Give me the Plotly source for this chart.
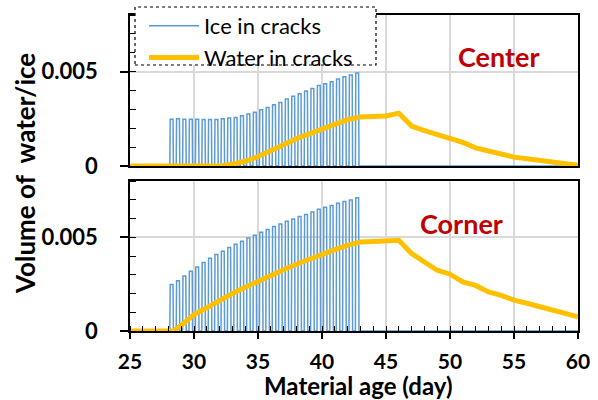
import plotly.graph_objects as go

# ---------------- data ----------------
ice_peak_day = [28.25, 28.75, 29.25, 29.75, 30.25, 30.75, 31.25, 31.75, 32.25, 32.75,
                33.25, 33.75, 34.25, 34.75, 35.25, 35.75, 36.25, 36.75, 37.25, 37.75,
                38.25, 38.75, 39.25, 39.75, 40.25, 40.75, 41.25, 41.75, 42.25, 42.75]
ice_peak_center = [0.00248, 0.00250, 0.00248, 0.00248, 0.00248, 0.00246, 0.00246, 0.00246,
                   0.00250, 0.00254, 0.00257, 0.00266, 0.00275, 0.00285, 0.00298, 0.00310,
                   0.00324, 0.00337, 0.00355, 0.00369, 0.00383, 0.00397, 0.00411, 0.00426,
                   0.00436, 0.00447, 0.00461, 0.00473, 0.00482, 0.00493]
ice_peak_corner = [0.00248, 0.00268, 0.00294, 0.00319, 0.00342, 0.00365, 0.00388, 0.00408,
                   0.00426, 0.00445, 0.00463, 0.00479, 0.00496, 0.00511, 0.00527, 0.00541,
                   0.00557, 0.00571, 0.00585, 0.00598, 0.00610, 0.00622, 0.00635, 0.00649,
                   0.00660, 0.00670, 0.00681, 0.00691, 0.00699, 0.00711]

water_day_center = [25, 28, 32, 33, 34, 35, 36, 37, 38, 39, 40, 41, 42, 43, 44, 45, 46,
                    47, 48, 49, 50, 51, 52, 53, 54, 55, 56, 57, 58, 59, 60]
water_center = [0, 0, 0, 0.0001, 0.00025, 0.0005, 0.00078, 0.00112, 0.00145, 0.0017,
                0.0019, 0.0022, 0.00245, 0.0026, 0.0026, 0.00265, 0.0028,
                0.00212, 0.00188, 0.00168, 0.00143, 0.00125, 0.00096, 0.00078, 0.0006,
                0.00047, 0.00038, 0.00029, 0.0002, 0.00012, 0.00004]

water_day_corner = [25, 28.4, 29, 30, 31, 32, 33, 34, 35, 36, 37, 38, 39, 40, 41, 42, 43,
                    44, 45, 46, 47, 48, 49, 50, 51, 52, 53, 54, 55, 56, 57, 58, 59, 60]
water_corner = [0, 0, 0.0003, 0.00088, 0.00124, 0.00165, 0.002, 0.00233, 0.00266, 0.00297,
                0.00327, 0.00356, 0.00384, 0.00412, 0.00434, 0.00457, 0.00475,
                0.00477, 0.0048, 0.00484, 0.00413, 0.00372, 0.00324, 0.00303, 0.00262,
                0.00243, 0.00208, 0.0019, 0.00165, 0.00148, 0.0013, 0.00113, 0.00095, 0.00076]

x_ticks = [25, 30, 35, 40, 45, 50, 55, 60]
y_ticks = [0, 0.005]
y_tick_text = ["0", "0.005"]

# ---------------- styling ----------------
BLUE = "#5B9BD5"
ORANGE = "#FFC000"
RED = "#C00000"
FONT = "Lato"
HALF = 0.11  # half-width of an ice pulse (days)


def pulses(days, peaks):
    xs, ys = [25.0], [0.0]
    for d, p in zip(days, peaks):
        xs += [d - HALF - 0.03, d - HALF, d + HALF, d + HALF + 0.03]
        ys += [0.0, p, p, 0.0]
    xs.append(60.0)
    ys.append(0.0)
    return xs, ys


ixc, iyc = pulses(ice_peak_day, ice_peak_center)
ixk, iyk = pulses(ice_peak_day, ice_peak_corner)

fig = go.Figure()
fig.add_trace(go.Scatter(x=ixc, y=iyc, mode="lines", name="Ice in cracks",
                         line=dict(color=BLUE, width=1.5), xaxis="x", yaxis="y"))
fig.add_trace(go.Scatter(x=water_day_center, y=water_center, mode="lines",
                         name="Water in cracks",
                         line=dict(color=ORANGE, width=5), xaxis="x", yaxis="y"))
fig.add_trace(go.Scatter(x=ixk, y=iyk, mode="lines", showlegend=False,
                         line=dict(color=BLUE, width=1.5), xaxis="x2", yaxis="y2"))
fig.add_trace(go.Scatter(x=water_day_corner, y=water_corner, mode="lines", showlegend=False,
                         line=dict(color=ORANGE, width=5), xaxis="x2", yaxis="y2"))

L, R, T, B = 130, 20, 15, 69
H = 400 - T - B
W = 598 - L - R
top_dom = [(331 - 166) / H, 1.0]
bot_dom = [0.0, (331 - 181) / H]

common_x = dict(range=[25, 60], tickvals=x_ticks, showgrid=True, gridcolor="#D9D9D9",
                gridwidth=1.5, showline=True, linecolor="black", linewidth=1.5,
                mirror=True, zeroline=False)
common_y = dict(range=[0, 0.008], tickvals=y_ticks, ticktext=y_tick_text,
                showgrid=True, gridcolor="#D9D9D9", gridwidth=1.5, showline=True,
                linecolor="black", linewidth=1.5, mirror=True, zeroline=False,
                ticks="outside", ticklen=8, tickwidth=1.5, tickcolor="black",
                tickfont=dict(family=FONT, size=22, color="black", weight="bold"),
                minor=dict(dtick=0.001, ticks="inside", ticklen=6, tickwidth=1.2,
                           tickcolor="black", showgrid=False),
                ticklabelstandoff=18)

fig.update_layout(
    width=598, height=400,
    margin=dict(l=L, r=R, t=T, b=B, autoexpand=False),
    paper_bgcolor="white", plot_bgcolor="white",
    showlegend=True,
    xaxis=dict(common_x, domain=[0, 1], anchor="y", showticklabels=False, ticks=""),
    yaxis=dict(common_y, domain=top_dom, anchor="x"),
    xaxis2=dict(common_x, domain=[0, 1], anchor="y2", showticklabels=True,
                ticks="outside", ticklen=6, tickwidth=1.5, tickcolor="black",
                tickfont=dict(family=FONT, size=21, color="black", weight="bold"),
                ticklabelstandoff=5,
                minor=dict(dtick=1, ticks="inside", ticklen=5, tickwidth=1.2,
                           tickcolor="black", showgrid=False)),
    yaxis2=dict(common_y, domain=bot_dom, anchor="x2"),
    legend=dict(x=(144 - L) / W, y=(331 - 5) / H, xanchor="left", yanchor="top",
                bgcolor="rgba(0,0,0,0)", borderwidth=0, itemwidth=50,
                font=dict(family=FONT, size=22, color="black"),
                tracegroupgap=0),
    shapes=[dict(type="rect", xref="paper", yref="paper",
                 x0=(135 - L) / W, x1=(376 - L) / W,
                 y0=(331 - 65) / H, y1=(331 - 7) / H,
                 line=dict(color="black", width=1.2, dash="dot"),
                 fillcolor="white", layer="above")],
    annotations=[
        dict(text="Center", x=53.8, y=0.00582, xref="x", yref="y", showarrow=False,
             font=dict(family=FONT, size=27, color=RED, weight="bold")),
        dict(text="Corner", x=50.9, y=0.00575, xref="x2", yref="y2", showarrow=False,
             font=dict(family=FONT, size=27, color=RED, weight="bold")),
        dict(text="Volume of\u00a0 water/ice", x=(25 - L) / W, y=(331 - 174) / H,
             xref="paper", yref="paper", textangle=-90, showarrow=False,
             xanchor="center", yanchor="middle",
             font=dict(family=FONT, size=26, color="black", weight="bold")),
        dict(text="Material age (day)", x=(358 - L) / W, y=(331 - 385) / H, xref="paper",
             yref="paper", showarrow=False, yanchor="middle",
             font=dict(family=FONT, size=24, color="black", weight="bold")),
    ],
)

fig.write_html("out.html")
